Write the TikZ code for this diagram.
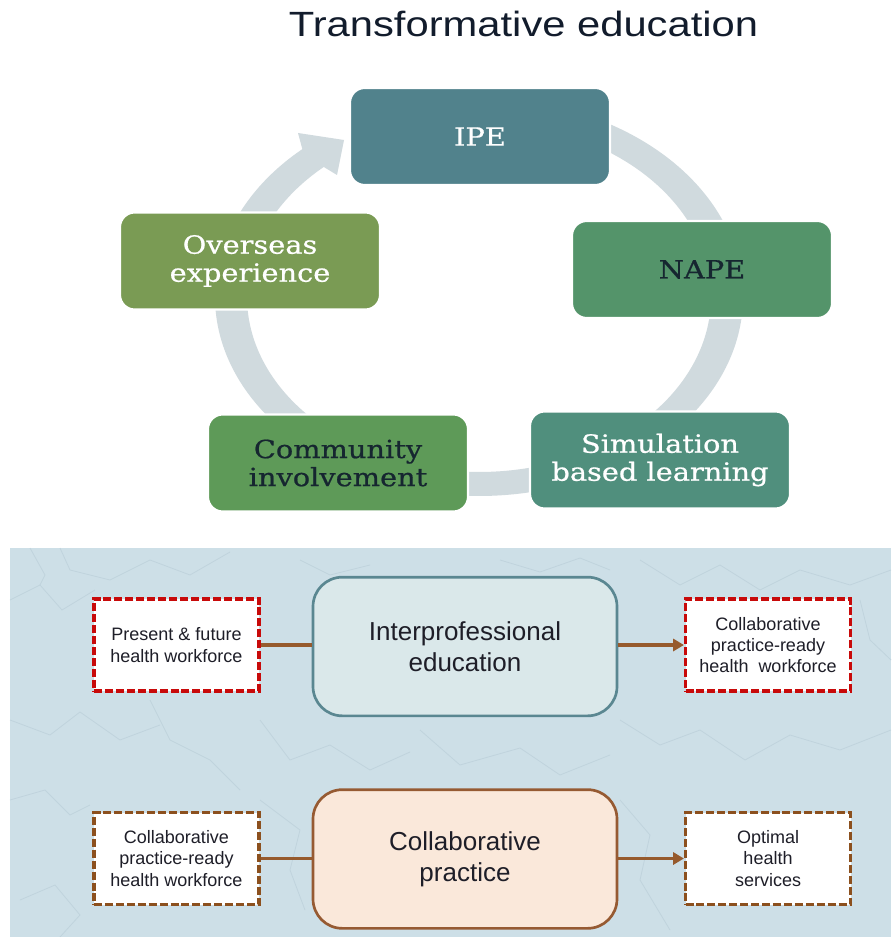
\documentclass[tikz,border=0pt]{standalone}
\usepackage{fontspec}
\setmainfont{Liberation Sans}
\newfontfamily\titlef[FakeStretch=1.19]{Liberation Sans}
\newfontfamily\serf[FakeStretch=1.15,FakeBold=0.7]{DejaVu Serif}
\usetikzlibrary{arrows.meta}
\definecolor{ringc}{RGB}{208,218,222}
\definecolor{cIPE}{RGB}{81,130,140}
\definecolor{cNAPE}{RGB}{84,148,106}
\definecolor{cSim}{RGB}{80,143,125}
\definecolor{cCom}{RGB}{94,154,88}
\definecolor{cOver}{RGB}{122,155,84}
\definecolor{darktxt}{RGB}{22,38,48}
\definecolor{titlec}{RGB}{18,28,44}
\definecolor{panelc}{RGB}{205,223,231}
\definecolor{crackc}{RGB}{192,211,221}
\definecolor{redd}{RGB}{200,10,10}
\definecolor{brownd}{RGB}{140,80,30}
\definecolor{arrowc}{RGB}{150,90,45}
\definecolor{ipefill}{RGB}{218,232,234}
\definecolor{ipeedge}{RGB}{90,135,145}
\definecolor{cpfill}{RGB}{250,232,218}
\definecolor{cpedge}{RGB}{150,90,50}
\definecolor{lowtxt}{RGB}{30,30,40}
\begin{document}
\begin{tikzpicture}[x=0.75pt,y=-0.75pt,
  cyc/.style={rectangle, rounded corners=11pt, draw=white, line width=1.6pt,
    minimum width=195pt, minimum height=72.75pt, align=center,
    font=\fontsize{18.8}{21}\serf, inner sep=0pt},
  dbox/.style={rectangle, dashed, dash pattern=on 6pt off 2.2pt, line width=2.4pt,
    fill=white, minimum width=123.75pt, minimum height=69pt, align=center,
    font=\fontsize{13.5}{16}\selectfont, text=lowtxt, inner sep=0pt},
  mbox/.style={rectangle, rounded corners=22pt, line width=2pt,
    minimum width=228pt, minimum height=104pt, align=center,
    font=\fontsize{19.5}{23}\selectfont, text=lowtxt, inner sep=0pt},
  conn/.style={draw=arrowc, line width=2.6pt},
  crack/.style={draw=crackc, line width=0.6pt}
]
\useasboundingbox (0,0) rectangle (891,937);
\fill[white] (0,0) rectangle (891,937);

% title
\node[anchor=base, font=\fontsize{26.3}{30}\titlef, text=titlec, inner sep=0pt] (title) at (523.5,37) {Transformative education};

% ring with arrow head
\fill[ringc]
  plot[domain=-62:228, samples=120, smooth] ({479+264*cos(\x)},{297+199*sin(\x)})
  -- (298,133) -- (344,140) -- (337,175)
  -- plot[domain=228:-62, samples=120, smooth] ({479+232*cos(\x)},{297+175*sin(\x)})
  -- cycle;

% cycle boxes
\node[cyc, fill=cIPE, text=white] (ipe) at (480,136.5) {IPE};
\node[cyc, fill=cNAPE, text=darktxt] (nape) at (702,269.5) {NAPE};
\node[cyc, fill=cSim, text=white] (sim) at (660,460) {Simulation\\based learning};
\node[cyc, fill=cCom, text=darktxt] (com) at (338,463) {Community\\involvement};
\node[cyc, fill=cOver, text=white] (over) at (250,261) {Overseas\\experience};

% lower panel
\fill[panelc] (10,548) rectangle (891,937);
\draw[crack] (10,600) -- (40,585) -- (62,610) -- (95,590);
\draw[crack] (30,548) -- (45,575) -- (40,585);
\draw[crack] (10,720) -- (50,735) -- (80,712) -- (120,740) -- (160,725);
\draw[crack] (60,548) -- (70,570) -- (110,580) -- (150,560) -- (190,575) -- (230,552);
\draw[crack] (260,720) -- (290,760) -- (330,745) -- (370,770) -- (410,752);
\draw[crack] (420,730) -- (460,765) -- (520,748) -- (560,775) -- (610,755);
\draw[crack] (640,560) -- (680,585) -- (720,565) -- (760,590) -- (800,570) -- (850,585) -- (891,570);
\draw[crack] (620,720) -- (660,745) -- (700,730) -- (745,760) -- (790,735) -- (840,750) -- (891,730);
\draw[crack] (10,800) -- (45,790) -- (70,815) -- (90,805);
\draw[crack] (20,900) -- (55,885) -- (80,915) -- (60,937);
\draw[crack] (860,600) -- (870,640) -- (891,660);
\draw[crack] (260,800) -- (300,830) -- (290,870) -- (305,910);
\draw[crack] (620,800) -- (650,835) -- (640,880) -- (670,930);
\draw[crack] (150,700) -- (170,740) -- (210,760) -- (240,790);
\draw[crack] (300,560) -- (330,575) -- (370,565);
\draw[crack] (500,560) -- (540,572) -- (580,558) -- (610,570);

\node[dbox, draw=redd] (pf) at (176.5,645) {Present \& future\\health workforce};
\node[mbox, draw=ipeedge, fill=ipefill] (ipebox) at (465,646.5) {Interprofessional\\education};
\node[dbox, draw=redd] (cprw1) at (768,645) {Collaborative\\practice-ready\\health\ \ workforce};

\node[dbox, draw=brownd] (cprw2) at (176.5,858.5) {Collaborative\\practice-ready\\health workforce};
\node[mbox, draw=cpedge, fill=cpfill] (cpbox) at (465,859) {Collaborative\\practice};
\node[dbox, draw=brownd] (ohs) at (768,858.5) {Optimal\\health\\services};

\draw[conn] (pf.east) -- (pf.east -| ipebox.west);
\draw[conn, -{Triangle[length=8pt,width=9pt]}] (cprw1.west -| ipebox.east) -- (cprw1.west);
\draw[conn] (cprw2.east) -- (cprw2.east -| cpbox.west);
\draw[conn, -{Triangle[length=8pt,width=9pt]}] (ohs.west -| cpbox.east) -- (ohs.west);
\end{tikzpicture}
\end{document}
